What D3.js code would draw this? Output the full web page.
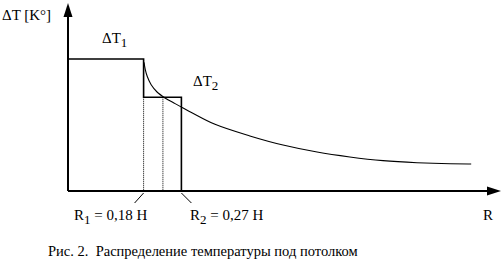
<!DOCTYPE html>
<html>
<head>
<meta charset="utf-8">
<script src="https://cdn.jsdelivr.net/npm/d3@7"></script>
</head>
<body style="margin:0; background:#fff">
<div id="chart"></div>
<script>
// width and height
var w = 502;
var h = 262;

// R in units of H, dT relative to dT1
var R1 = 0.18, R2 = 0.27, Rmid = 0.226;
var dT1 = 1.0, dT2 = 0.71;

// curve dT(R)
var curveR  = [0.181, 0.184, 0.189, 0.198, 0.212, 0.231, 0.255, 0.274, 0.295, 0.350, 0.433, 0.512, 0.593, 0.671, 0.750, 0.831, 0.910, 0.960];
var curveDT = [0.975, 0.920, 0.865, 0.805, 0.750, 0.705, 0.662, 0.629, 0.593, 0.505, 0.417, 0.348, 0.295, 0.258, 0.230, 0.214, 0.206, 0.205];

var labels = {
  yAxis: "\u0394T [K\u00b0]",
  xAxis: "R",
  caption: "\u0420\u0438\u0441. 2.  \u0420\u0430\u0441\u043f\u0440\u0435\u0434\u0435\u043b\u0435\u043d\u0438\u0435 \u0442\u0435\u043c\u043f\u0435\u0440\u0430\u0442\u0443\u0440\u044b \u043f\u043e\u0434 \u043f\u043e\u0442\u043e\u043b\u043a\u043e\u043c"
};

var xScale = d3.scaleLinear().domain([0, 1]).range([68, 488]);
var yScale = d3.scaleLinear().domain([0, 1]).range([191, 59]);

var svg = d3.select("#chart").append("svg")
  .attr("width", w)
  .attr("height", h)
  .attr("font-family", "Liberation Serif");

var x0 = xScale(0), y0 = yScale(0);

// axes with arrows
svg.append("line")
  .attr("x1", x0).attr("y1", y0)
  .attr("x2", x0).attr("y2", 14)
  .attr("stroke", "#000").attr("stroke-width", 2);
svg.append("path")
  .attr("d", "M" + x0 + ",3 L" + (x0 - 4.5) + ",17 L" + (x0 + 4.5) + ",17 Z")
  .attr("fill", "#000");

svg.append("line")
  .attr("x1", x0).attr("y1", y0)
  .attr("x2", 489).attr("y2", y0)
  .attr("stroke", "#000").attr("stroke-width", 2);
svg.append("path")
  .attr("d", "M501," + y0 + " L487," + (y0 - 4.5) + " L487," + (y0 + 4.5) + " Z")
  .attr("fill", "#000");

// step: dT1 then dT2
var step = [[0, dT1], [R1, dT1], [R1, dT2], [R2, dT2], [R2, 0]];
svg.append("path")
  .datum(step)
  .attr("d", d3.line().x(function (d) { return xScale(d[0]); }).y(function (d) { return yScale(d[1]); }))
  .attr("fill", "none")
  .attr("stroke", "#000")
  .attr("stroke-width", 1.6);

// dotted verticals
svg.selectAll("line.dot")
  .data([R1, Rmid])
  .enter()
  .append("line")
  .attr("class", "dot")
  .attr("x1", function (d) { return xScale(d); })
  .attr("x2", function (d) { return xScale(d); })
  .attr("y1", yScale(dT2))
  .attr("y2", y0)
  .attr("stroke", "#000")
  .attr("stroke-width", 1)
  .attr("stroke-dasharray", "1,1");

// curve
var pts = curveR.map(function (r, i) { return [r, curveDT[i]]; });
svg.append("path")
  .datum(pts)
  .attr("d", d3.line()
    .x(function (d) { return xScale(d[0]); })
    .y(function (d) { return yScale(d[1]); })
    .curve(d3.curveCatmullRom.alpha(0.5)))
  .attr("fill", "none")
  .attr("stroke", "#000")
  .attr("stroke-width", 1.1);

// leader lines
svg.append("line")
  .attr("x1", xScale(R1)).attr("y1", y0 + 2)
  .attr("x2", xScale(R1) - 9).attr("y2", y0 + 12)
  .attr("stroke", "#000").attr("stroke-width", 1);
svg.append("line")
  .attr("x1", xScale(R2)).attr("y1", y0 + 2)
  .attr("x2", xScale(R2) + 10).attr("y2", y0 + 12)
  .attr("stroke", "#000").attr("stroke-width", 1);

// labels
function txt(x, y, size) {
  return svg.append("text").attr("x", x).attr("y", y)
    .style("font-family", "'Liberation Serif'")
    .attr("font-size", size)
    .attr("xml:space", "preserve")
    .attr("fill", "#000");
}
txt(2, 20, 15).text(labels.yAxis);

function subLabel(x, y, main, sub, rest) {
  var t = txt(x, y, 15);
  t.append("tspan").text(main);
  t.append("tspan").attr("dy", 4).attr("font-size", 13).text(sub);
  if (rest) t.append("tspan").attr("dy", -4).text(rest);
}
subLabel(102, 43, "\u0394T", "1");
subLabel(193, 86, "\u0394T", "2");
subLabel(74, 220, "R", "1", " = 0,18 H");
subLabel(190, 220, "R", "2", " = 0,27 H");

txt(483, 220, 15).text(labels.xAxis);
txt(48, 256, 14.5).text(labels.caption);
</script>
</body>
</html>
